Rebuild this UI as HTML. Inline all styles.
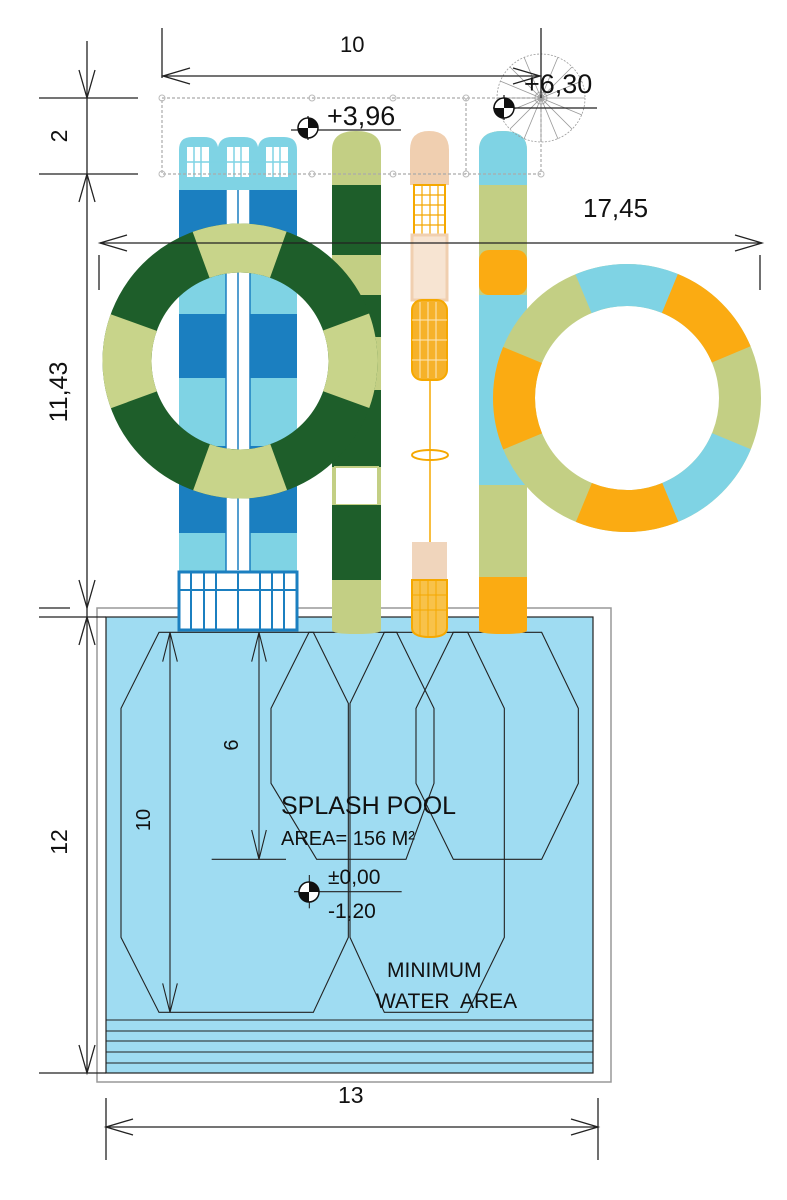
<!DOCTYPE html>
<html><head><meta charset="utf-8"><style>
html,body{margin:0;padding:0;background:#fff}
svg{display:block}
text{font-family:"Liberation Sans",sans-serif;fill:#111}
</style></head><body>
<svg width="787" height="1200" viewBox="0 0 787 1200" xmlns="http://www.w3.org/2000/svg">

<!-- POOL -->
<rect x="97" y="608" width="514" height="474" fill="#fff" stroke="#999" stroke-width="1.5"/>
<rect x="106" y="617" width="487" height="456" fill="#9fdcf2" stroke="#222" stroke-width="1.2"/>
<g stroke="#222" stroke-width="1.1">
<line x1="106" y1="1020" x2="593" y2="1020"/>
<line x1="106" y1="1031" x2="593" y2="1031"/>
<line x1="106" y1="1041" x2="593" y2="1041"/>
<line x1="106" y1="1052" x2="593" y2="1052"/>
<line x1="106" y1="1063" x2="593" y2="1063"/>
</g>
<g transform="translate(90,600) scale(0.33333)" fill="none" stroke="#222" stroke-width="3.3">
<polygon points="207,97 670,97 775,310 775,1012 670,1237 207,1237 93,1012 93,325"/>
<polygon points="657,97 920,97 1032,325 1032,550 948,778 680,778 543,550 543,325"/>
<polygon points="883,97 1133,97 1243,325 1243,1012 1133,1237 883,1237 780,1012 780,310"/>
<polygon points="1090,97 1355,97 1465,325 1465,550 1355,778 1090,778 978,550 978,325"/>
<line x1="240" y1="97" x2="240" y2="1237"/>
<polyline points="218,185 240,97 262,185"/>
<polyline points="218,1150 240,1237 262,1150"/>
<line x1="507" y1="97" x2="507" y2="778"/>
<polyline points="485,185 507,97 529,185"/>
<polyline points="485,690 507,778 529,690"/>
<line x1="365" y1="778" x2="588" y2="778"/>
<line x1="612" y1="875" x2="935" y2="875"/>
<line x1="658" y1="825" x2="658" y2="925"/>
</g>
<circle cx="309" cy="892" r="10" fill="#fff" stroke="#111" stroke-width="1.5"/>
<path d="M309 882 A10 10 0 0 1 319 892 L309 892Z M309 902 A10 10 0 0 1 299 892 L309 892Z" fill="#111"/>
<text x="150" y="820" font-size="20" transform="rotate(-90 150 820)" text-anchor="middle">10</text>
<text x="238" y="745" font-size="20" transform="rotate(-90 238 745)" text-anchor="middle">6</text>
<text x="281" y="814" font-size="25">SPLASH POOL</text>
<text x="281" y="845" font-size="20">AREA= 156 M²</text>
<text x="328" y="884" font-size="21">±0,00</text>
<text x="328" y="918" font-size="21">-1,20</text>
<text x="387" y="977" font-size="21">MINIMUM</text>
<text x="376" y="1008" font-size="21" xml:space="preserve">WATER  AREA</text>

<!-- BLUE TOWER -->
<g>
<rect x="179" y="190" width="118" height="440" fill="#1b7fc0"/>
<rect x="226" y="190" width="24" height="440" fill="#fff"/>
<line x1="238" y1="190" x2="238" y2="630" stroke="#1b7fc0" stroke-width="1.5"/>
<rect x="179" y="272" width="118" height="42" fill="#7fd3e4"/>
<rect x="179" y="378" width="118" height="68" fill="#7fd3e4"/>
<rect x="179" y="533" width="118" height="38" fill="#7fd3e4"/>
<rect x="226" y="272" width="24" height="300" fill="#fff"/>
<line x1="238" y1="272" x2="238" y2="570" stroke="#1b7fc0" stroke-width="1.5"/>
<line x1="226" y1="190" x2="226" y2="630" stroke="#1b7fc0" stroke-width="1.5"/>
<line x1="250" y1="190" x2="250" y2="630" stroke="#1b7fc0" stroke-width="1.5"/>
<rect x="179" y="572" width="118" height="58" fill="#fff" stroke="#1b7fc0" stroke-width="3"/>
<g stroke="#1b7fc0" stroke-width="2"><line x1="191" y1="572" x2="191" y2="630"/><line x1="204" y1="572" x2="204" y2="630"/><line x1="216" y1="572" x2="216" y2="630"/><line x1="238" y1="572" x2="238" y2="630"/><line x1="260" y1="572" x2="260" y2="630"/><line x1="272" y1="572" x2="272" y2="630"/><line x1="284" y1="572" x2="284" y2="630"/><line x1="179" y1="590" x2="297" y2="590"/></g>
<path d="M179 190 V150 Q179 137 192 137 H204 Q216 137 218 147 Q220 137 232 137 H244 Q256 137 258 147 Q260 137 272 137 H284 Q297 137 297 150 V190 Z" fill="#7fd3e4"/>
<g fill="#fff"><rect x="187" y="147" width="22" height="30"/><rect x="227" y="147" width="22" height="30"/><rect x="266" y="147" width="22" height="30"/></g>
<g stroke="#7fd3e4" stroke-width="1.5"><line x1="194" y1="147" x2="194" y2="177"/><line x1="201" y1="147" x2="201" y2="177"/><line x1="234" y1="147" x2="234" y2="177"/><line x1="241" y1="147" x2="241" y2="177"/><line x1="273" y1="147" x2="273" y2="177"/><line x1="280" y1="147" x2="280" y2="177"/><line x1="187" y1="162" x2="288" y2="162"/></g>
</g>

<!-- GREEN SLIDE -->
<g>
<path d="M332 630 V150 Q332 131 356 131 Q381 131 381 150 V630 Q381 634 356 634 Q332 634 332 630Z" fill="#c3cf84"/>
<rect x="332" y="185" width="49" height="70" fill="#1e5e2a"/>
<rect x="332" y="295" width="49" height="42" fill="#1e5e2a"/>
<rect x="332" y="390" width="49" height="77" fill="#1e5e2a"/>
<rect x="335" y="467" width="43" height="38" fill="#fff" stroke="#c3cf84" stroke-width="2"/>
<rect x="332" y="505" width="49" height="75" fill="#1e5e2a"/>
</g>

<!-- PEACH/ORANGE SLIDE -->
<g>
<path d="M410 185 V150 Q410 131 429 131 Q449 131 449 150 V185Z" fill="#f0cfb0"/>
<rect x="414" y="185" width="31" height="50" fill="#fff" stroke="#f5a800" stroke-width="2"/>
<g stroke="#f5a800" stroke-width="1.2"><line x1="414" y1="195" x2="445" y2="195"/><line x1="414" y1="205" x2="445" y2="205"/><line x1="414" y1="215" x2="445" y2="215"/><line x1="414" y1="225" x2="445" y2="225"/><line x1="422" y1="185" x2="422" y2="235"/><line x1="430" y1="185" x2="430" y2="235"/><line x1="438" y1="185" x2="438" y2="235"/></g>
<rect x="412" y="235" width="35" height="65" fill="#f7e4d2" stroke="#f0cfb0" stroke-width="3"/>
<rect x="412" y="300" width="35" height="80" rx="10" fill="#f6b22a" stroke="#f5a800" stroke-width="2"/>
<g stroke="#fff" stroke-width="1" opacity="0.7"><line x1="420" y1="302" x2="420" y2="378"/><line x1="428" y1="302" x2="428" y2="378"/><line x1="436" y1="302" x2="436" y2="378"/><line x1="412" y1="320" x2="447" y2="320"/><line x1="412" y1="340" x2="447" y2="340"/><line x1="412" y1="360" x2="447" y2="360"/></g>
<line x1="430" y1="380" x2="430" y2="542" stroke="#f5a800" stroke-width="1.5"/>
<ellipse cx="430" cy="455" rx="18" ry="5" fill="none" stroke="#f5a800" stroke-width="2"/>
<rect x="412" y="542" width="35" height="38" fill="#f0d5bc"/>
<path d="M412 580 H447 V628 Q447 637 430 637 Q412 637 412 628Z" fill="#f8c24a" stroke="#f5a800" stroke-width="2"/>
<g stroke="#f5a800" stroke-width="1"><line x1="420" y1="580" x2="420" y2="636"/><line x1="428" y1="580" x2="428" y2="636"/><line x1="436" y1="580" x2="436" y2="636"/><line x1="412" y1="595" x2="447" y2="595"/><line x1="412" y1="610" x2="447" y2="610"/></g>
</g>

<!-- RIGHT SLIDE -->
<g>
<path d="M479 630 V150 Q479 131 503 131 Q527 131 527 150 V630 Q527 634 503 634 Q479 634 479 630Z" fill="#c3cf84"/>
<path d="M479 185 V150 Q479 131 503 131 Q527 131 527 150 V185Z" fill="#7fd3e4"/>
<rect x="479" y="250" width="48" height="45" rx="10" fill="#fbab12"/>
<rect x="479" y="295" width="48" height="250" fill="#7fd3e4"/>
<rect x="479" y="485" width="48" height="92" fill="#c3cf84"/>
<path d="M479 577 H527 V630 Q527 634 503 634 Q479 634 479 630Z" fill="#fbab12"/>
</g>

<!-- LEFT RING -->
<g fill="none" stroke-width="49">
<circle cx="240" cy="361" r="113" stroke="#1e5e2a"/>
<circle cx="240" cy="361" r="113" stroke="#c8d48a" pathLength="360" stroke-dasharray="40 50" stroke-dashoffset="20"/>
</g>
<!-- RIGHT RING -->
<g fill="none" stroke-width="42">
<circle cx="627" cy="398" r="113" stroke="#c3cf84"/>
<circle cx="627" cy="398" r="113" stroke="#7fd3e4" pathLength="360" stroke-dasharray="45 315" stroke-dashoffset="112.5"/>
<circle cx="627" cy="398" r="113" stroke="#fbab12" pathLength="360" stroke-dasharray="45 315" stroke-dashoffset="67.5"/>
<circle cx="627" cy="398" r="113" stroke="#7fd3e4" pathLength="360" stroke-dasharray="45 315" stroke-dashoffset="-22.5"/>
<circle cx="627" cy="398" r="113" stroke="#fbab12" pathLength="360" stroke-dasharray="45 315" stroke-dashoffset="-67.5"/>
<circle cx="627" cy="398" r="113" stroke="#fbab12" pathLength="360" stroke-dasharray="45 315" stroke-dashoffset="-157.5"/>
</g>

<!-- TOP GRAY DASHED RECT -->
<g fill="none" stroke="#aaa" stroke-width="1.2" stroke-dasharray="3 2">
<rect x="162" y="98" width="379" height="76"/>
<line x1="466" y1="98" x2="466" y2="174"/>
</g>
<g fill="none" stroke="#bbb" stroke-width="1">
<circle cx="162" cy="98" r="3"/><circle cx="312" cy="98" r="3"/><circle cx="393" cy="98" r="3"/><circle cx="466" cy="98" r="3"/><circle cx="541" cy="98" r="3"/>
<circle cx="162" cy="174" r="3"/><circle cx="312" cy="174" r="3"/><circle cx="393" cy="174" r="3"/><circle cx="466" cy="174" r="3"/><circle cx="541" cy="174" r="3"/>
</g>
<g fill="none" stroke="#999" stroke-width="0.8">
<circle cx="541" cy="98" r="44" stroke-dasharray="2 1.5"/>
<circle cx="541" cy="98" r="6"/>
<line x1="497" y1="98" x2="585" y2="98"/><line x1="541" y1="54" x2="541" y2="142"/>
<line x1="510" y1="67" x2="572" y2="129"/><line x1="572" y1="67" x2="510" y2="129"/>
<line x1="500" y1="81" x2="582" y2="115"/><line x1="500" y1="115" x2="582" y2="81"/>
<line x1="524" y1="57" x2="558" y2="139"/><line x1="558" y1="57" x2="524" y2="139"/>
</g>

<!-- DIMENSIONS -->
<g stroke="#222" stroke-width="1.3" fill="none">
<line x1="162" y1="28" x2="162" y2="78"/>
<line x1="541" y1="28" x2="541" y2="98"/>
<line x1="162" y1="76" x2="541" y2="76"/>
<polyline points="190,68 163,76 190,84"/>
<polyline points="513,68 540,76 513,84"/>
<line x1="100" y1="243" x2="762" y2="243"/>
<polyline points="127,235 100,243 127,251"/>
<polyline points="735,235 762,243 735,251"/>
<line x1="99" y1="255" x2="99" y2="290"/>
<line x1="760" y1="255" x2="760" y2="290"/>
<line x1="87" y1="41" x2="87" y2="1073"/>
<line x1="39" y1="98" x2="138" y2="98"/>
<line x1="39" y1="174" x2="138" y2="174"/>
<line x1="39" y1="608" x2="70" y2="608"/>
<line x1="39" y1="617" x2="106" y2="617"/>
<line x1="39" y1="1073" x2="106" y2="1073"/>
<polyline points="79,70 87,98 95,70"/>
<polyline points="79,202 87,174 95,202"/>
<polyline points="79,580 87,608 95,580"/>
<polyline points="79,645 87,617 95,645"/>
<polyline points="79,1045 87,1073 95,1045"/>
<line x1="106" y1="1098" x2="106" y2="1160"/>
<line x1="598" y1="1098" x2="598" y2="1160"/>
<line x1="106" y1="1127" x2="598" y2="1127"/>
<polyline points="133,1119 106,1127 133,1135"/>
<polyline points="571,1119 598,1127 571,1135"/>
<line x1="291" y1="130" x2="401" y2="130"/>
<line x1="493" y1="108" x2="597" y2="108"/>
<line x1="308" y1="116" x2="308" y2="140"/>
<line x1="504" y1="95" x2="504" y2="120"/>
</g>
<circle cx="308" cy="128" r="10" fill="#fff" stroke="#111" stroke-width="1.5"/>
<path d="M308 118 A10 10 0 0 1 318 128 L308 128Z M308 138 A10 10 0 0 1 298 128 L308 128Z" fill="#111"/>
<circle cx="504" cy="108" r="10" fill="#fff" stroke="#111" stroke-width="1.5"/>
<path d="M504 98 A10 10 0 0 1 514 108 L504 108Z M504 118 A10 10 0 0 1 494 108 L504 108Z" fill="#111"/>

<text x="340" y="52" font-size="22">10</text>
<text x="327" y="125" font-size="27">+3,96</text>
<text x="524" y="93" font-size="27">+6,30</text>
<text x="583" y="217" font-size="26">17,45</text>
<text x="338" y="1103" font-size="23">13</text>
<text x="67" y="136" font-size="23" transform="rotate(-90 67 136)" text-anchor="middle">2</text>
<text x="67" y="392" font-size="25" transform="rotate(-90 67 392)" text-anchor="middle">11,43</text>
<text x="67" y="842" font-size="23" transform="rotate(-90 67 842)" text-anchor="middle">12</text>
</svg>
</body></html>
